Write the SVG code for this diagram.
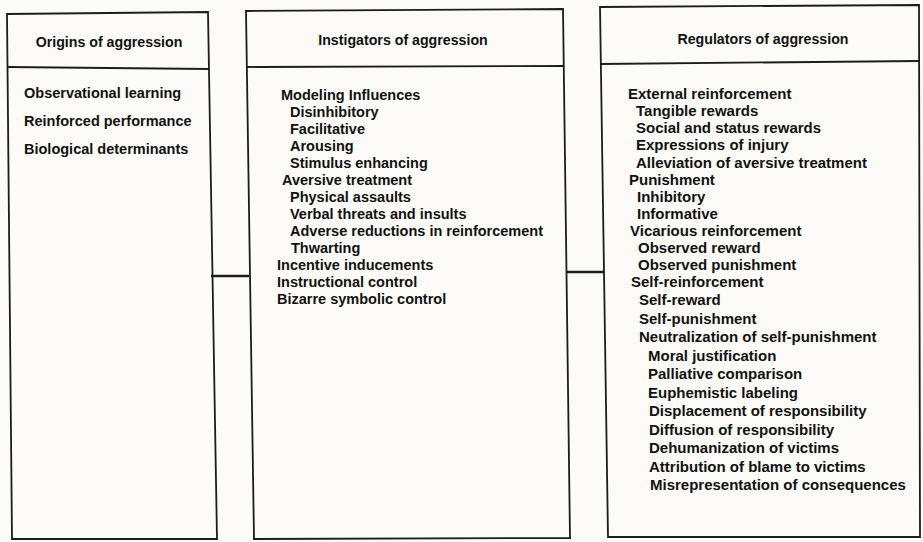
<svg xmlns="http://www.w3.org/2000/svg" width="923" height="542" viewBox="0 0 923 542">
<style>
.bg{fill:#fcfbf7}
.frame{fill:none;stroke:#1c1c1c;stroke-width:1.8;stroke-linejoin:miter}
.rung{stroke:#1c1c1c;stroke-width:2.4}
text{font-family:"Liberation Sans",Arial,sans-serif;font-weight:bold;font-size:14.5px;fill:#111}
.h{text-anchor:middle;font-size:14.2px}
.r{font-size:15px}
</style>
<rect class="bg" x="0" y="0" width="923" height="542"/>
<g id="origins">
<path class="frame" d="M7,14 L208,12 L217,539 L12,539 Z"/>
<path class="frame" d="M7,67 L209,69"/>
<text class="h" x="109" y="47">Origins of aggression</text>
<text x="24" y="98">Observational learning</text>
<text x="24" y="126">Reinforced performance</text>
<text x="24" y="154">Biological determinants</text>
</g>
<g id="instigators">
<path class="frame" d="M246,11 L563,9 L570,538 L254,539 Z"/>
<path class="frame" d="M247,67 L564,66"/>
<text class="h" x="403" y="45">Instigators of aggression</text>
<text x="281" y="100">Modeling Influences</text>
<text x="290" y="117">Disinhibitory</text>
<text x="290" y="134">Facilitative</text>
<text x="290" y="151">Arousing</text>
<text x="290" y="168">Stimulus enhancing</text>
<text x="282" y="185">Aversive treatment</text>
<text x="290" y="202">Physical assaults</text>
<text x="290" y="219">Verbal threats and insults</text>
<text x="290" y="236">Adverse reductions in reinforcement</text>
<text x="291" y="253">Thwarting</text>
<text x="277" y="270">Incentive inducements</text>
<text x="277" y="287">Instructional control</text>
<text x="277" y="304">Bizarre symbolic control</text>
</g>
<g id="regulators">
<path class="frame" d="M600,7 L919,5 L920,537 L608,537 Z"/>
<path class="frame" d="M600,64 L919,61"/>
<text class="h" x="763" y="44">Regulators of aggression</text>
<text class="r" x="628" y="99">External reinforcement</text>
<text class="r" x="636" y="116">Tangible rewards</text>
<text class="r" x="636" y="133">Social and status rewards</text>
<text class="r" x="636" y="150">Expressions of injury</text>
<text class="r" x="636" y="168">Alleviation of aversive treatment</text>
<text class="r" x="629" y="185">Punishment</text>
<text class="r" x="637" y="202">Inhibitory</text>
<text class="r" x="637" y="219">Informative</text>
<text class="r" x="630" y="236">Vicarious reinforcement</text>
<text class="r" x="638" y="253">Observed reward</text>
<text class="r" x="638" y="270">Observed punishment</text>
<text class="r" x="631" y="287">Self-reinforcement</text>
<text class="r" x="639" y="305">Self-reward</text>
<text class="r" x="639" y="324">Self-punishment</text>
<text class="r" x="639" y="342">Neutralization of self-punishment</text>
<text class="r" x="648" y="361">Moral justification</text>
<text class="r" x="648" y="379">Palliative comparison</text>
<text class="r" x="648" y="398">Euphemistic labeling</text>
<text class="r" x="649" y="416">Displacement of responsibility</text>
<text class="r" x="649" y="435">Diffusion of responsibility</text>
<text class="r" x="649" y="453">Dehumanization of victims</text>
<text class="r" x="649" y="472">Attribution of blame to victims</text>
<text class="r" x="650" y="490">Misrepresentation of consequences</text>
</g>
<g id="connectors">
<line class="rung" x1="211" y1="276" x2="249" y2="276"/>
<line class="rung" x1="566" y1="272" x2="604" y2="272"/>
</g>
</svg>
